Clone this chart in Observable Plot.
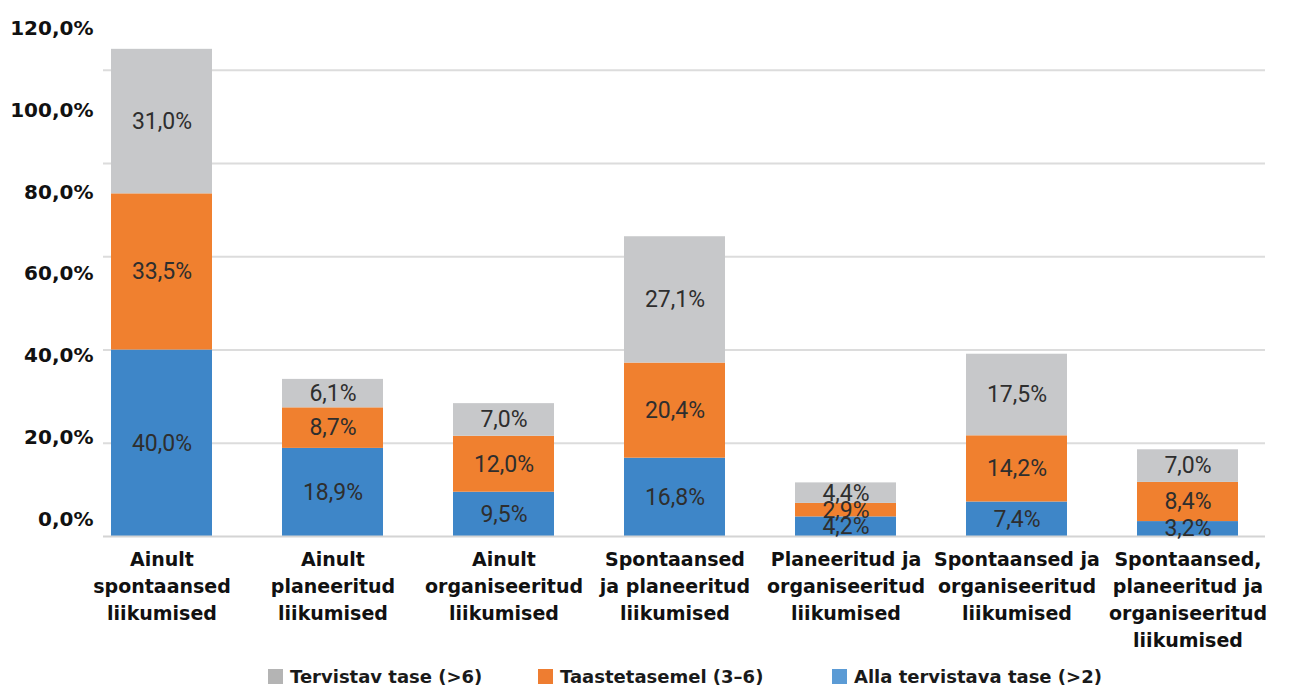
<!DOCTYPE html>
<html lang="et">
<head>
<meta charset="utf-8">
<script src="https://cdn.jsdelivr.net/npm/d3@7"></script>
<script src="https://cdn.jsdelivr.net/npm/@observablehq/plot@0.6"></script>
<style>
  html, body { margin: 0; padding: 0; background: #fff; }
  #wrap { position: relative; width: 1290px; height: 691px; }
  #yaxis { position: absolute; left: 0; top: 0; }
  #legend { position: absolute; left: 0; top: 661px; width: 1290px; height: 31px;
            font-family: "DejaVu Sans", sans-serif; font-weight: bold; font-size: 18px; color: #1a1a1a; }
  .item { position: absolute; top: 0; height: 31px; display: flex; align-items: center; white-space: nowrap; }
  .sw { width: 15px; height: 15px; margin-right: 7px; }
</style>
</head>
<body>
<div id="wrap"></div>
<script>
// Liikumisaktiivsuse tasemed liikumisviiside kaupa
const categories = [
  "Ainult spontaansed liikumised",
  "Ainult planeeritud liikumised",
  "Ainult organiseeritud liikumised",
  "Spontaansed ja planeeritud liikumised",
  "Planeeritud ja organiseeritud liikumised",
  "Spontaansed ja organiseeritud liikumised",
  "Spontaansed, planeeritud ja organiseeritud liikumised"
];
const categoryLabels = [
  "Ainult\nspontaansed\nliikumised",
  "Ainult\nplaneeritud\nliikumised",
  "Ainult\norganiseeritud\nliikumised",
  "Spontaansed\nja planeeritud\nliikumised",
  "Planeeritud ja\norganiseeritud\nliikumised",
  "Spontaansed ja\norganiseeritud\nliikumised",
  "Spontaansed,\nplaneeritud ja\norganiseeritud\nliikumised"
];

// Series, bottom to top of each stack
const seriesNames = ["Alla tervistava tase (>2)", "Taastetasemel (3–6)", "Tervistav tase (>6)"];
const seriesColors = ["#3e86c8", "#f0802f", "#c7c8ca"];
const legendColors = ["#5b9bd5", "#ee7d31", "#b4b4b4"];

const allaValues      = [40.0, 18.9,  9.5, 16.8, 4.2,  7.4, 3.2];
const taasteValues    = [33.5,  8.7, 12.0, 20.4, 2.9, 14.2, 8.4];
const tervistavValues = [31.0,  6.1,  7.0, 27.1, 4.4, 17.5, 7.0];

const yTicks = [0, 20, 40, 60, 80, 100, 120];
const gridTicks = [20, 40, 60, 80, 100];

const fmt = v => v.toFixed(1).replace(".", ",") + "%";

// Long table for the stack transform
const valueSets = [allaValues, taasteValues, tervistavValues];
const rows = [];
seriesNames.forEach((s, si) => {
  categories.forEach((c, ci) => rows.push({category: c, series: s, value: valueSets[si][ci]}));
});

const wrap = document.getElementById("wrap");

const chart = Plot.plot({
  width: 1290,
  height: 660,
  marginLeft: 103,
  marginRight: 25,
  marginTop: 12,
  marginBottom: 124,
  style: {background: "transparent"},
  x: {domain: categories, paddingInner: 0.41, paddingOuter: 0.09, align: 0.22, label: null},
  y: {domain: [0, 112.4], label: null, axis: null},
  color: {domain: seriesNames, range: seriesColors},
  marks: [
    Plot.ruleY(gridTicks, {stroke: "#dcdcdc", strokeWidth: 2}),
    Plot.barY(rows, {x: "category", y: "value", z: "series", fill: "series", order: seriesNames}),
    Plot.ruleY([0], {stroke: "#d4d4d4", strokeWidth: 2}),
    Plot.text(rows, Plot.stackY({
      x: "category", y: "value", z: "series", order: seriesNames,
      text: d => fmt(d.value),
      fill: "#2e2e2e", fontSize: 23, fontFamily: "Roboto, sans-serif"
    })),
    Plot.axisX({
      tickSize: 0, tickPadding: 10,
      tickFormat: d => categoryLabels[categories.indexOf(d)],
      fontSize: 19, fontFamily: "DejaVu Sans, sans-serif", fontWeight: "bold",
      lineHeight: 1.42, fill: "#111"
    })
  ]
});
wrap.appendChild(chart);

// Percentage labels along the left edge
const yAxis = Plot.plot({
  width: 100,
  height: 560,
  marginLeft: 93,
  marginRight: 0,
  marginTop: 28,
  marginBottom: 41,
  style: {background: "transparent"},
  x: {axis: null},
  y: {domain: [0, 120], label: null, axis: null},
  marks: [
    Plot.axisY(yTicks, {
      anchor: "left", tickSize: 0, tickPadding: 0, tickFormat: fmt, label: null,
      fontSize: 20, fontFamily: "DejaVu Sans, sans-serif", fontWeight: "bold", fill: "#111"
    })
  ]
});
yAxis.id = "yaxis";
wrap.appendChild(yAxis);

// Legend: top series first
const legend = document.createElement("div");
legend.id = "legend";
const legendLeft = [268, 538, 832];
[2, 1, 0].forEach((si, k) => {
  const item = document.createElement("div");
  item.className = "item";
  item.style.left = legendLeft[k] + "px";
  const sw = document.createElement("span");
  sw.className = "sw";
  sw.style.background = legendColors[si];
  item.appendChild(sw);
  item.appendChild(document.createTextNode(seriesNames[si]));
  legend.appendChild(item);
});
wrap.appendChild(legend);
</script>
</body>
</html>
